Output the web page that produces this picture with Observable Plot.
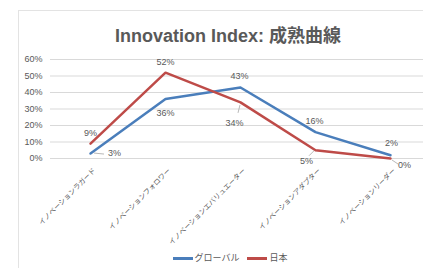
<!DOCTYPE html>
<html><head><meta charset="utf-8">
<script src="https://cdn.jsdelivr.net/npm/d3@7"></script>
<script src="https://cdn.jsdelivr.net/npm/@observablehq/plot@0.6"></script>
<style>
html,body{margin:0;padding:0;background:#fff;width:423px;height:268px;overflow:hidden;}
body{position:relative;font-family:"Liberation Sans","Noto Sans CJK JP",sans-serif;}
#frame{position:absolute;left:18px;top:10px;width:420px;height:270px;border:1px solid #e3e3e3;box-sizing:border-box;}
#title{position:absolute;left:18px;width:420px;top:21px;text-align:center;font-size:18px;font-weight:bold;color:#595959;}
#chart{position:absolute;left:0;top:50px;}
#legend{position:absolute;left:0;width:460px;top:251px;text-align:center;font-size:9px;color:#595959;font-family:"Noto Sans CJK JP",sans-serif;}
#legend span.sw{display:inline-block;width:20px;height:2.5px;vertical-align:middle;margin-right:2px;}
#legend span.it{margin:0 4px;}
</style></head>
<body>
<div id="frame"></div>
<div id="title">Innovation Index: 成熟曲線</div>
<div id="chart"></div>
<div id="legend"></div>
<script>
const categories = ["イノベーションラガード","イノベーションフォロワー","イノベーションエバリュエーター","イノベーションアダプター","イノベーションリーダー"];
const seriesNames = ["グローバル","日本"];
const globalValues = [3,36,43,16,2];
const japanValues = [9,52,34,5,0];
const yTicks = [0,10,20,30,40,50,60];
const colors = ["#4a7ebb","#be4b48"];

const rows = [];
categories.forEach((c,i)=>{
  rows.push({cat:c, series:seriesNames[0], value:globalValues[i]});
  rows.push({cat:c, series:seriesNames[1], value:japanValues[i]});
});
const g = rows.filter(d=>d.series===seriesNames[0]);
const j = rows.filter(d=>d.series===seriesNames[1]);
const pick = (arr, idx) => idx.map(i=>arr[i]);
const lab = d => d.value + "%";
const txt = {fill:"#595959", fontSize:9, fontFamily:"Liberation Sans, sans-serif"};

const chart = Plot.plot({
  width: 423, height: 200,
  marginLeft: 50, marginRight: 0, marginTop: 9, marginBottom: 92,
  x: {type:"point", domain: categories, range:[88, 391], padding:0, label:null, axis:null},
  y: {domain:[0,60], label:null},
  style:{fontFamily:"Noto Sans CJK JP, sans-serif", color:"#595959", background:"transparent", overflow:"visible"},
  marks: [
    Plot.ruleY(yTicks, {stroke:"#d9d9d9", strokeWidth:1}),
    Plot.axisY({ticks:yTicks, tickSize:0, tickPadding:8, tickFormat:d=>d+"%", fontSize:9, fill:"#595959", fontFamily:"Liberation Sans, sans-serif"}),
    Plot.text(categories, {x:d=>d, frameAnchor:"bottom", rotate:-45, textAnchor:"end", lineAnchor:"top", dx:2, dy:9, fontSize:7, fill:"#595959"}),
    Plot.line(rows, {x:"cat", y:"value", z:"series", stroke:"series", strokeWidth:2.5}),
    // global labels
    Plot.text(pick(g,[0]), {x:"cat", y:"value", text:lab, dx:24, dy:0, ...txt}),
    Plot.text(pick(g,[1]), {x:"cat", y:"value", text:lab, dy:14, ...txt}),
    Plot.text(pick(g,[2,3]), {x:"cat", y:"value", text:lab, dx:-1, dy:-11, ...txt}),
    Plot.text(pick(g,[4]), {x:"cat", y:"value", text:lab, dx:1, dy:-12, ...txt}),
    // japan labels
    Plot.text(pick(j,[0,1]), {x:"cat", y:"value", text:lab, dy:-11, ...txt}),
    Plot.text(pick(j,[2]), {x:"cat", y:"value", text:lab, dx:-6, dy:21, ...txt}),
    Plot.text(pick(j,[3]), {x:"cat", y:"value", text:lab, dx:-9, dy:11, ...txt}),
    Plot.text(pick(j,[4]), {x:"cat", y:"value", text:lab, dx:14, dy:7, ...txt}),
  ],
  color:{domain:seriesNames, range:colors}
});
const sx = chart.scale("x"), sy = chart.scale("y");
document.getElementById("chart").appendChild(chart);
const svg = d3.select(chart);
const leaders = [
  [g[0], [4,0],[14,1]],
  [j[2], [0,3],[-2,11]],
  [j[3], [-1,1],[-6,6]],
  [j[4], [2,2],[8,6]]
];
leaders.forEach(([d,a,b])=>{
  const px = sx.apply(d.cat), py = sy.apply(d.value);
  svg.append("line").attr("x1",px+a[0]).attr("y1",py+a[1]).attr("x2",px+b[0]).attr("y2",py+b[1])
    .attr("stroke","#a6a6a6").attr("stroke-width",0.8);
});
const leg = document.getElementById("legend");
seriesNames.forEach((s,i)=>{
  const it = document.createElement("span"); it.className="it";
  it.innerHTML = `<span class="sw" style="background:${colors[i]}"></span>${s}`;
  leg.appendChild(it);
});
</script>
</body></html>
